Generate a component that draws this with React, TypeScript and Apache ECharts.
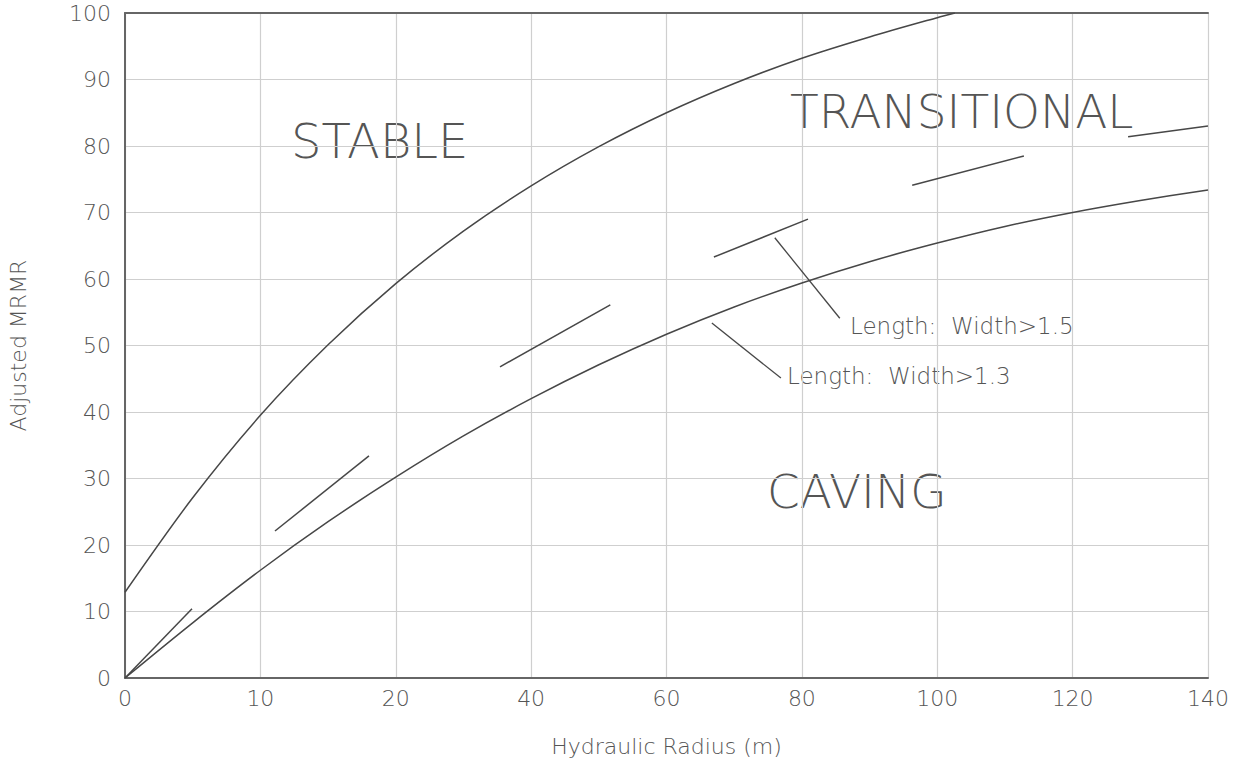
import React, { useEffect, useRef } from "react";
import * as echarts from "echarts";

// X tick labels (the drawing's axis is not linear: 0,10,20 then steps of 20)
const tickValues = [0, 10, 20, 40, 60, 80, 100, 120, 140];
const yTicks = [0, 10, 20, 30, 40, 50, 60, 70, 80, 90, 100];

// Upper boundary (STABLE / TRANSITIONAL)
const upperHR = [0, 5, 10, 15, 20, 30, 40, 50, 60, 70, 80, 90, 100, 102.6];
const upperMRMR = [12.9, 27.1, 39.5, 50.1, 59.3, 67.2, 74.0, 79.9, 85.0, 89.4, 93.2, 96.4, 99.3, 100];

// Lower boundary (TRANSITIONAL / CAVING), Length:Width>1.3
const lowerHR = [0, 5, 10, 15, 20, 30, 40, 50, 60, 70, 80, 90, 100, 110, 120, 130, 140];
const lowerMRMR = [0, 8.3, 16.2, 23.5, 30.2, 36.4, 42.0, 47.1, 51.7, 55.8, 59.4, 62.6, 65.4, 67.9, 70.0, 71.8, 73.4];

// Dashed boundary, Length:Width>1.5 (each entry: start HR, start MRMR, end HR, end MRMR)
const dashedSegments = [
  [0, 0, 4.95, 10.4],
  [11.08, 22.1, 18.02, 33.4],
  [35.4, 46.8, 51.7, 56.1],
  [67.0, 63.3, 80.9, 69.0],
  [96.3, 74.1, 112.8, 78.5],
  [128.2, 81.4, 140, 83.0],
];

// Leader lines for the annotations
const leaderSegments = [
  [76.0, 66.2, 85.6, 54.1],
  [66.7, 53.4, 76.9, 45.1],
];

const regionLabels = ["STABLE", "TRANSITIONAL", "CAVING"];
const annotationLabels = ["Length:  Width>1.5", "Length:  Width>1.3"];

// map real hydraulic radius to the axis position (piecewise between tick labels)
function toPos(v: number): number {
  for (let i = 0; i < tickValues.length - 1; i++) {
    const a = tickValues[i];
    const b = tickValues[i + 1];
    if (v <= b || i === tickValues.length - 2) {
      return i + (v - a) / (b - a);
    }
  }
  return 0;
}

const FONT = "'DejaVu Sans', sans-serif";
const W = 200;
const TEXT = "#555";
const LINE = "#474747";

export default function App() {
  const ref = useRef<HTMLDivElement>(null);

  useEffect(() => {
    if (!ref.current) return;
    const chart = echarts.init(ref.current, undefined, { renderer: "svg" });

    const segToLines = (segs: number[][]) =>
      segs.map((s) => ({ coords: [[toPos(s[0]), s[1]], [toPos(s[2]), s[3]]] }));

    const option: any = {
      animation: false,
      backgroundColor: "#fff",
      textStyle: { fontFamily: FONT },
      grid: { left: 125, top: 13, right: 34, bottom: 85, containLabel: false, outerBoundsMode: "none" },
      xAxis: [
        {
          type: "value",
          min: 0,
          max: tickValues.length - 1,
          interval: 1,
          name: "Hydraulic Radius (m)",
          nameLocation: "middle",
          nameGap: 57,
          nameTextStyle: { fontSize: 22, color: TEXT, fontFamily: FONT, fontWeight: W },
          axisLine: { show: true, lineStyle: { color: "#666", width: 2 } },
          axisTick: { show: false },
          axisLabel: {
            formatter: (v: number) => String(tickValues[Math.round(v)] ?? ""),
            fontSize: 22,
            color: TEXT,
            fontFamily: FONT,
            fontWeight: W,
            margin: 9,
          },
          splitLine: { show: true, lineStyle: { color: "#cfcfcf", width: 1.2 } },
        },
        {
          type: "value",
          position: "top",
          min: 0,
          max: tickValues.length - 1,
          interval: 1,
          axisLine: { show: true, lineStyle: { color: "#666", width: 2 } },
          axisTick: { show: false },
          axisLabel: { show: false },
          splitLine: { show: false },
        },
      ],
      yAxis: {
        type: "value",
        min: yTicks[0],
        max: yTicks[yTicks.length - 1],
        interval: 10,
        name: "Adjusted MRMR",
        nameLocation: "middle",
        nameGap: 96,
        nameRotate: 90,
        nameTextStyle: { fontSize: 22, color: TEXT, fontFamily: FONT, fontWeight: W },
        axisLine: { show: true, lineStyle: { color: "#666", width: 2 } },
        axisTick: { show: false },
        axisLabel: { fontSize: 22, color: TEXT, fontFamily: FONT, fontWeight: W, margin: 14 },
        splitLine: { show: true, lineStyle: { color: "#cfcfcf", width: 1.2 } },
      },
      series: [
        {
          type: "line",
          name: "upper",
          data: upperHR.map((x, i) => [toPos(x), upperMRMR[i]]),
          smooth: 0.3,
          symbol: "none",
          clip: true,
          lineStyle: { color: LINE, width: 1.5 },
        },
        {
          type: "line",
          name: "lower",
          data: lowerHR.map((x, i) => [toPos(x), lowerMRMR[i]]),
          smooth: 0.3,
          symbol: "none",
          clip: true,
          lineStyle: { color: LINE, width: 1.5 },
        },
        {
          type: "lines",
          coordinateSystem: "cartesian2d",
          data: segToLines(dashedSegments),
          lineStyle: { color: LINE, width: 1.5, opacity: 1 },
        },
        {
          type: "lines",
          coordinateSystem: "cartesian2d",
          data: segToLines(leaderSegments),
          lineStyle: { color: LINE, width: 1.3, opacity: 1 },
        },
      ],
      graphic: [
        { type: "text", left: 291, top: 117, style: { text: regionLabels[0], font: `${W} 48px ${FONT}`, fill: TEXT } },
        { type: "text", left: 790, top: 88, style: { text: regionLabels[1], font: `${W} 47px ${FONT}`, fill: TEXT } },
        { type: "text", left: 767, top: 468, style: { text: regionLabels[2], font: `${W} 47px ${FONT}`, fill: TEXT } },
        { type: "text", left: 850, top: 314, style: { text: annotationLabels[0], font: `${W} 23px ${FONT}`, fill: TEXT } },
        { type: "text", left: 787, top: 364, style: { text: annotationLabels[1], font: `${W} 23px ${FONT}`, fill: TEXT } },
      ],
    };

    chart.setOption(option);
    return () => chart.dispose();
  }, []);

  return (
    <div
      ref={ref}
      style={{ position: "fixed", left: 0, top: 0, width: 1242, height: 763, background: "#fff" }}
    />
  );
}
